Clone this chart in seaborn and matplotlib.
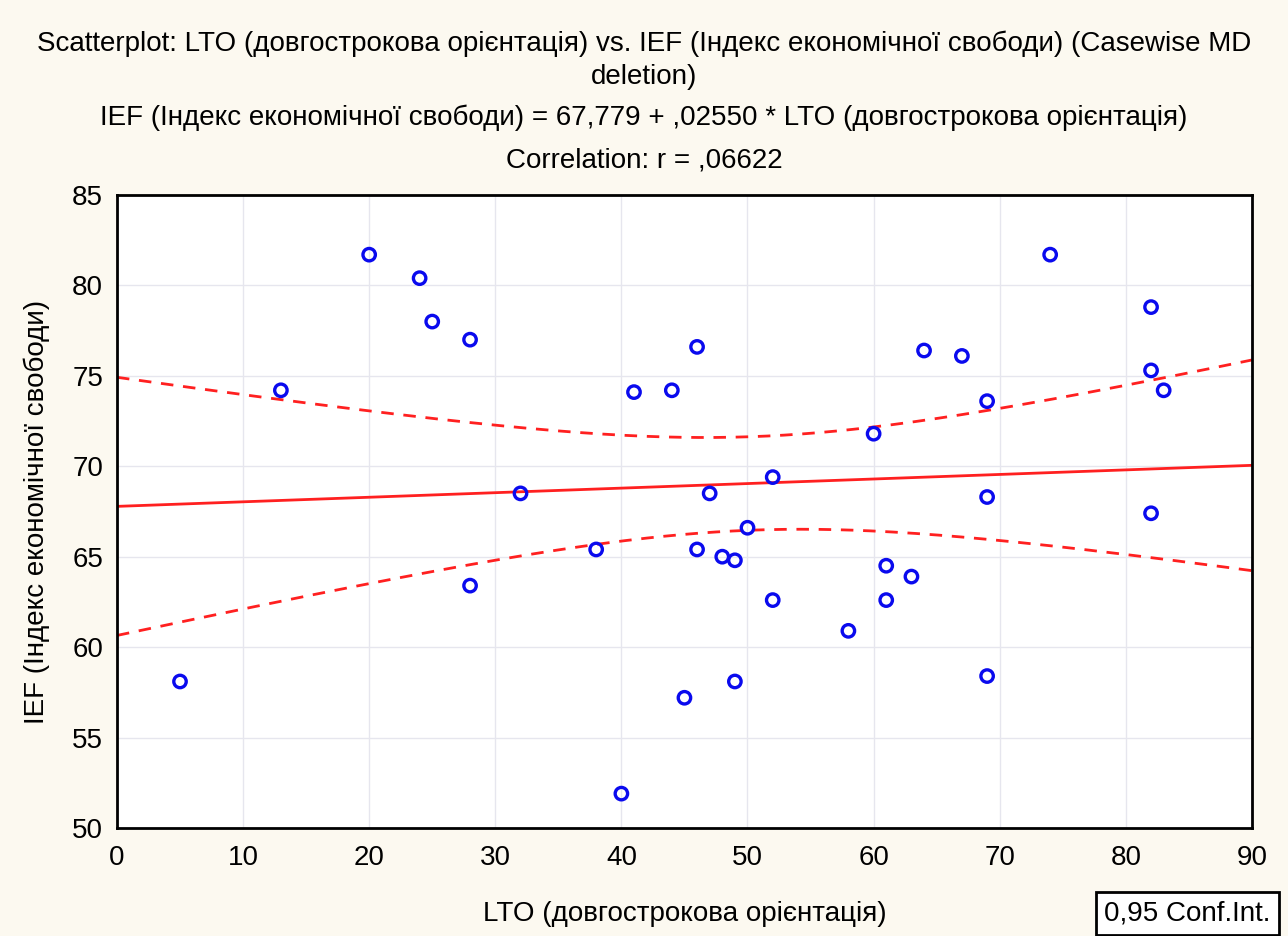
import numpy as np
import pandas as pd
import matplotlib
matplotlib.use("Agg")
import matplotlib.pyplot as plt
import seaborn as sns

# Valores
lto = [5, 13, 20, 24, 25, 28, 28, 32, 38, 40, 41, 44, 45, 46, 46, 47, 48, 49, 49,
       50, 52, 52, 58, 60, 61, 61, 63, 64, 67, 69, 69, 69, 74, 82, 82, 82, 83]
ief = [58.1, 74.2, 81.7, 80.4, 78.0, 77.0, 63.4, 68.5, 65.4, 51.9, 74.1, 74.2, 57.2,
       76.6, 65.4, 68.5, 65.0, 64.8, 58.1, 66.6, 69.4, 62.6, 60.9, 71.8, 64.5, 62.6,
       63.9, 76.4, 76.1, 73.6, 68.3, 58.4, 81.7, 78.8, 75.3, 67.4, 74.2]

x_ticks = [0, 10, 20, 30, 40, 50, 60, 70, 80, 90]
y_ticks = [50, 55, 60, 65, 70, 75, 80, 85]

titulo = ("Scatterplot: LTO (довгострокова орієнтація) vs. IEF (Індекс економічної свободи) (Casewise MD\n"
          "deletion)")
equacao = "IEF (Індекс економічної свободи) = 67,779 + ,02550 * LTO (довгострокова орієнтація)"
correl = "Correlation: r = ,06622"

df = pd.DataFrame({"lto": lto, "ief": ief})

sns.set_style("white")
plt.rcParams['font.family'] = ['Liberation Sans', 'DejaVu Sans']

fig = plt.figure(figsize=(12.88, 9.36), dpi=100, facecolor="#fcf9f0")
ax = fig.add_axes([0.0908, 0.1154, 0.8812, 0.6763])
ax.set_facecolor("white")

# reta de regressão e intervalo de confiança 95%
x = np.array(lto, dtype=float)
y = np.array(ief, dtype=float)
n = len(x)
b, a = np.polyfit(x, y, 1)
resid = y - (a + b * x)
s = np.sqrt(np.sum(resid ** 2) / (n - 2))
t = 2.030
xs = np.linspace(0, 90, 200)
ys = a + b * xs
se = s * np.sqrt(1 / n + (xs - x.mean()) ** 2 / np.sum((x - x.mean()) ** 2))

ax.plot(xs, ys, color="#ff2020", lw=2, zorder=2)
ax.plot(xs, ys + t * se, color="#ff2020", lw=2, ls=(0, (4.5, 3.5)), zorder=2)
ax.plot(xs, ys - t * se, color="#ff2020", lw=2, ls=(0, (4.5, 3.5)), zorder=2)

sns.scatterplot(data=df, x="lto", y="ief", ax=ax, marker="o", s=80,
                facecolors="none", edgecolor="#0a0aee", linewidth=2.4, zorder=3)

ax.set_xlim(0, 90)
ax.set_ylim(50, 85)
ax.set_xticks(x_ticks)
ax.set_yticks(y_ticks)
ax.tick_params(labelsize=20, direction="in", length=3, width=1, colors="black")
ax.tick_params(axis="y", pad=10)
ax.tick_params(axis="x", pad=12)
ax.grid(True, color="#e6e6ee", lw=1)
for sp in ax.spines.values():
    sp.set_color("black")
    sp.set_linewidth(2)

ax.set_xlabel("LTO (довгострокова орієнтація)", fontsize=20, labelpad=22, color="black")
ax.set_ylabel("IEF (Індекс економічної свободи)", fontsize=20, labelpad=16, color="black")

fig.text(0.5, 0.967, titulo, ha="center", va="top", fontsize=20, linespacing=1.35, color="black")
fig.text(0.5, 0.874, equacao, ha="center", va="center", fontsize=20, color="black")
fig.text(0.5, 0.829, correl, ha="center", va="center", fontsize=20, color="black")

fig.text(0.9865, 0.01, "0,95 Conf.Int.", ha="right", va="bottom", fontsize=20, color="black",
         bbox=dict(boxstyle="square,pad=0.3", facecolor="white", edgecolor="black", lw=2))

fig.savefig("out.png", dpi=100, facecolor=fig.get_facecolor())
